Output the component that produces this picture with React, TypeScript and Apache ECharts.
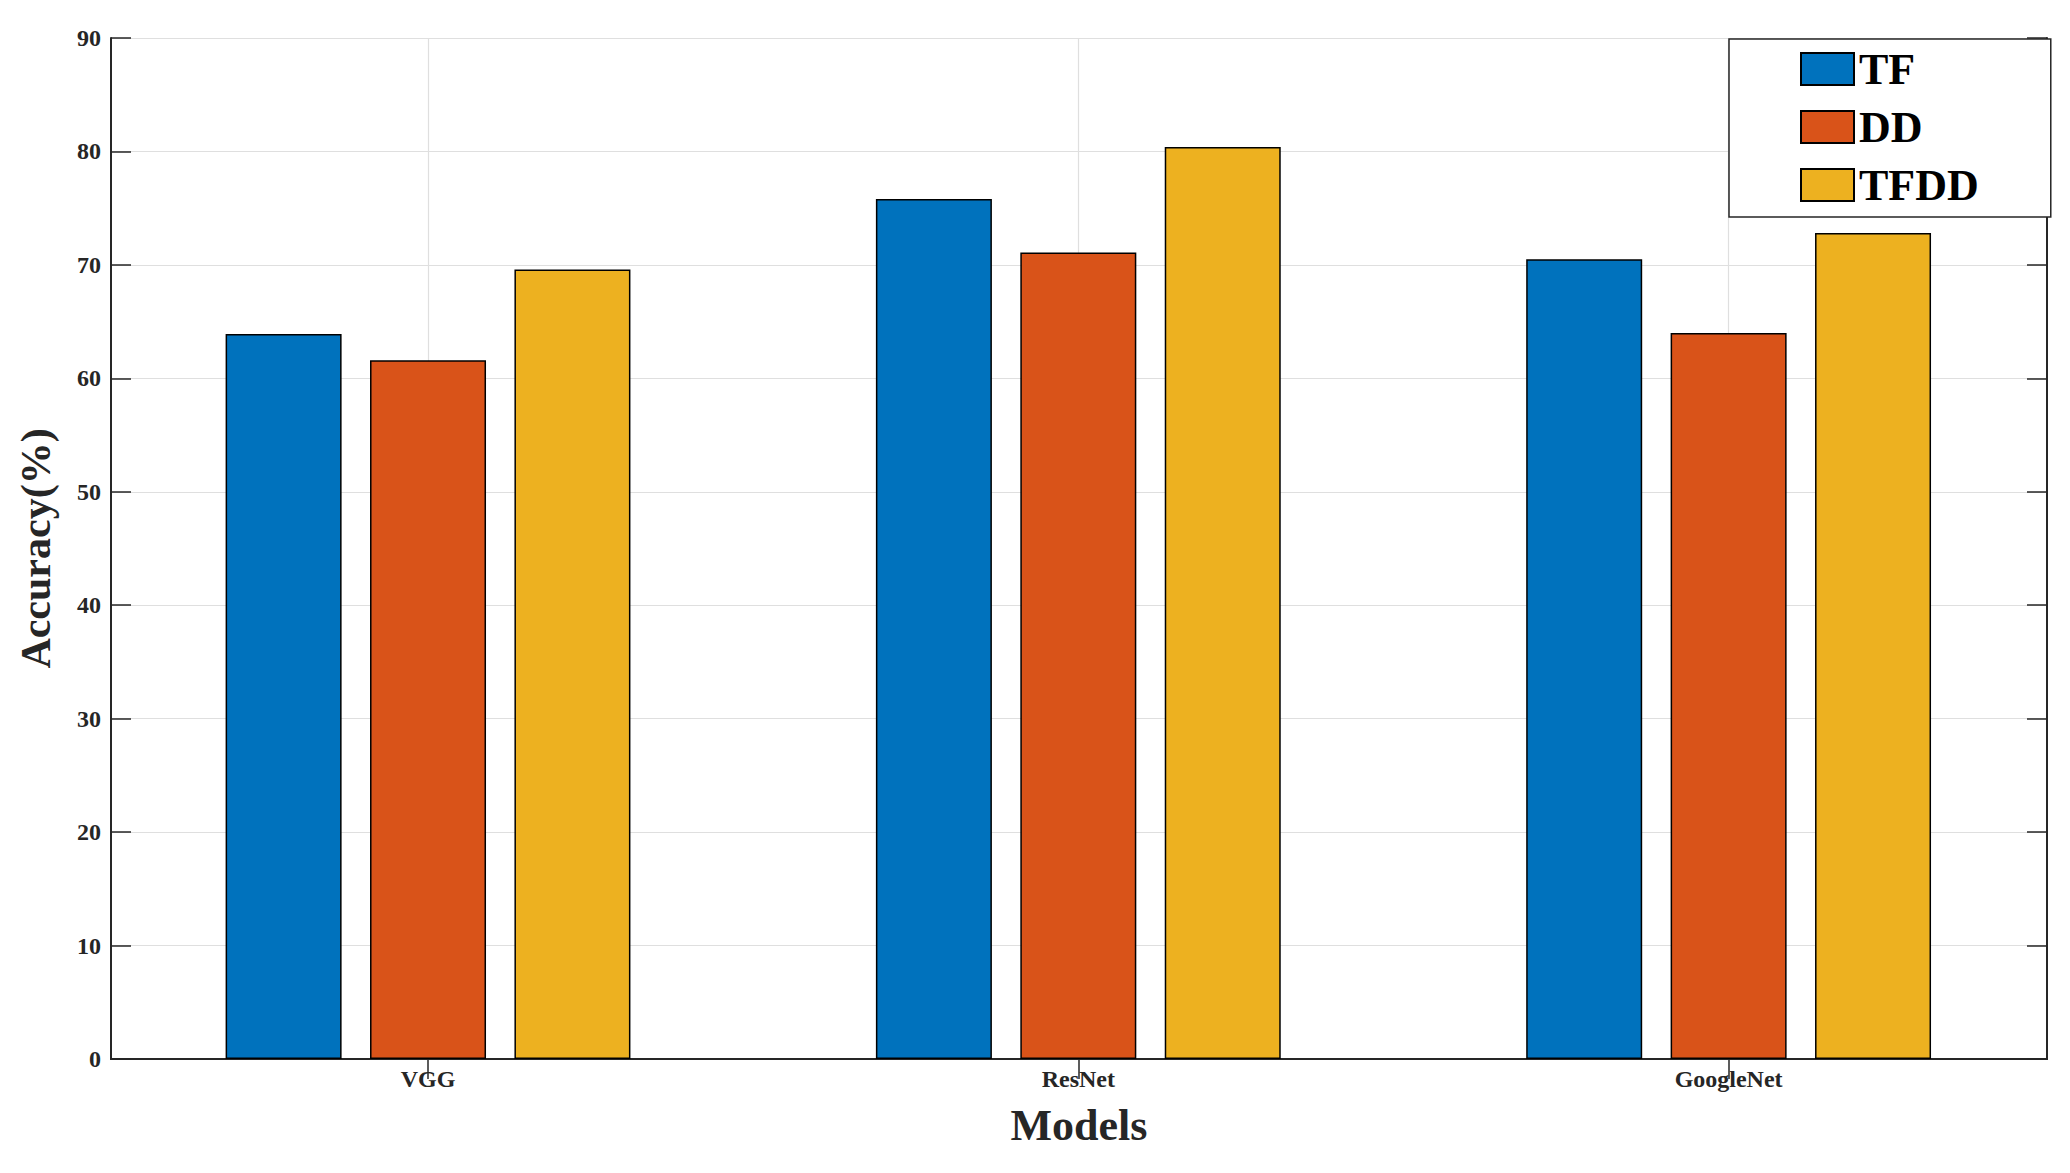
import React, { useEffect, useRef } from "react";
import * as echarts from "echarts";

const categories = ["VGG", "ResNet", "GoogleNet"];
const categoryPositions = [1, 2, 3];
const seriesNames = ["TF", "DD", "TFDD"];
const tfValues = [63.9, 75.8, 70.5];
const ddValues = [61.6, 71.1, 64.0];
const tfddValues = [69.6, 80.4, 72.8];
const colors = ["#0072BD", "#D95319", "#EDB120"];
const yTicks = { min: 0, max: 90, interval: 10 };

const FONT = "'Liberation Serif', 'DejaVu Serif', serif";
const AX = "#262626";

export default function App() {
  const ref = useRef<HTMLDivElement>(null);
  useEffect(() => {
    if (!ref.current) return;
    const chart = echarts.init(ref.current, undefined, { renderer: "svg" });
    const allValues = [tfValues, ddValues, tfddValues];
    const xMin = 0.5125;
    const xMax = 3.4896;
    const axisLine = { show: true, lineStyle: { color: AX, width: 2 } };
    const tick = {
      show: true,
      inside: true,
      length: 20,
      lineStyle: { color: AX, width: 1.5 },
    };
    const option: any = {
      animation: false,
      backgroundColor: "#ffffff",
      grid: { left: 111, top: 38, width: 1936, height: 1021, containLabel: false },
      legend: {
        show: true,
        left: 1729,
        top: 39,
        orient: "vertical",
        padding: [8, 72, 10, 71],
        itemGap: 14,
        itemWidth: 53,
        itemHeight: 32,
        icon: "rect",
        backgroundColor: "#ffffff",
        borderColor: AX,
        borderWidth: 1.5,
        borderRadius: 0,
        textStyle: {
          fontFamily: FONT,
          fontWeight: "bold",
          fontSize: 44,
          color: "#000000",
          lineHeight: 44,
        },
        data: seriesNames,
      },
      xAxis: [
        {
          type: "value",
          min: xMin,
          max: xMax,
          position: "bottom",
          name: "Models",
          nameLocation: "middle",
          nameGap: 44,
          nameTextStyle: { fontFamily: FONT, fontWeight: "bold", fontSize: 44, color: AX },
          axisLine,
          axisTick: { ...tick, customValues: categoryPositions },
          axisLabel: {
            customValues: categoryPositions,
            formatter: (v: number) => categories[Math.round(v) - 1] ?? "",
            fontFamily: FONT,
            fontWeight: "bold",
            fontSize: 24,
            color: AX,
            margin: 8,
          },
          splitLine: { show: true, lineStyle: { color: "#dfdfdf", width: 1.2 } },
        },
        {
          type: "value",
          min: xMin,
          max: xMax,
          position: "top",
          axisLine,
          axisTick: { ...tick, customValues: categoryPositions },
          axisLabel: { show: false, customValues: categoryPositions },
          splitLine: { show: false },
        },
      ],
      yAxis: [
        {
          type: "value",
          min: yTicks.min,
          max: yTicks.max,
          interval: yTicks.interval,
          position: "left",
          name: "Accuracy(%)",
          nameLocation: "middle",
          nameGap: 54,
          nameRotate: 90,
          nameTextStyle: { fontFamily: FONT, fontWeight: "bold", fontSize: 42, color: AX },
          axisLine,
          axisTick: tick,
          axisLabel: {
            fontFamily: FONT,
            fontWeight: "bold",
            fontSize: 24,
            color: AX,
            margin: 10,
          },
          splitLine: { show: true, lineStyle: { color: "#dfdfdf", width: 1.2 } },
        },
        {
          type: "value",
          min: yTicks.min,
          max: yTicks.max,
          interval: yTicks.interval,
          position: "right",
          axisLine,
          axisTick: tick,
          axisLabel: { show: false },
          splitLine: { show: false },
        },
      ],
      series: seriesNames.map((name, i) => ({
        name,
        type: "bar",
        xAxisIndex: 0,
        yAxisIndex: 0,
        barWidth: 116,
        barGap: "24.5%",
        itemStyle: { color: colors[i], borderColor: "#000000", borderWidth: 1.5 },
        data: categoryPositions.map((x, j) => [x, allValues[i][j]]),
      })),
    };
    chart.setOption(option);
    return () => chart.dispose();
  }, []);
  return (
    <div
      ref={ref}
      style={{ position: "absolute", left: 0, top: 0, width: 2070, height: 1173 }}
    />
  );
}
